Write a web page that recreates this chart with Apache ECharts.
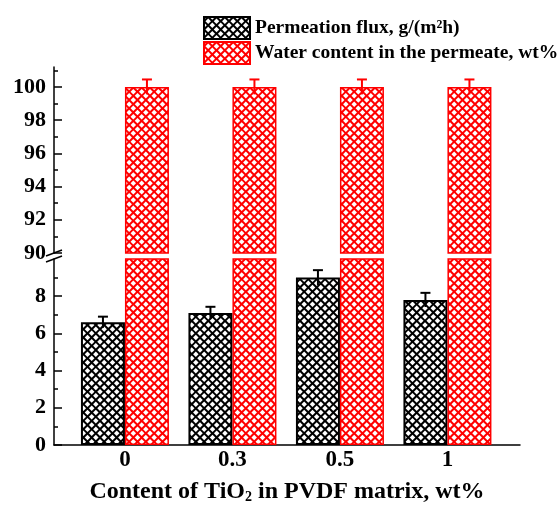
<!DOCTYPE html>
<html><head><meta charset="utf-8">
<script src="https://cdn.jsdelivr.net/npm/echarts@6/dist/echarts.min.js"></script>
<style>html,body{margin:0;padding:0;background:#fff}#c{width:558px;height:505px}</style>
</head><body><div id="c"></div>
<script>
// ---- data ----
const categories = ['0', '0.3', '0.5', '1'];
const positions = [1, 2, 3, 4];
const flux = [6.6, 7.1, 9.0, 7.8];
const fluxErr = [0.3, 0.33, 0.4, 0.38];
const water = [100, 100, 100, 100];
const waterErr = [0.45, 0.45, 0.45, 0.45];
const upperTicks = [90, 92, 94, 96, 98, 100];
const upperMinor = [91, 93, 95, 97, 99, 101];
const lowerTicks = [0, 2, 4, 6, 8];
const lowerMinor = [1, 3, 5, 7, 9];
const seriesNames = ['Permeation flux, g/(m²h)', 'Water content in the permeate, wt%'];

// ---- style ----
const FONT = "'Liberation Serif', 'Times New Roman', serif";
const BAR_W = 44;
const BLACK = '#000000', RED = '#ff0000';

function pattern(color) {
  const s = 25, c = document.createElement('canvas');
  c.width = s; c.height = s;
  const g = c.getContext('2d');
  g.fillStyle = color; g.fillRect(0, 0, s, s);
  g.fillStyle = '#ffffff';
  const p = s / 3, r = 2.75;
  function d(x, y) { g.beginPath(); g.moveTo(x, y - r); g.lineTo(x + r, y); g.lineTo(x, y + r); g.lineTo(x - r, y); g.closePath(); g.fill(); }
  for (let i = 0; i <= 3; i++) for (let j = 0; j <= 3; j++) { d(i * p, j * p); d(i * p + p / 2, j * p + p / 2); }
  return { image: c, repeat: 'repeat' };
}
const blackPat = pattern(BLACK), redPat = pattern(RED);

const axisLine = { show: true, onZero: false, lineStyle: { color: '#000', width: 1.5 } };
const tickLine = { color: '#000', width: 1.5 };
const labelStyle = { color: '#000', fontFamily: FONT, fontWeight: 'bold', fontSize: 22, margin: 8 };

function errRender(offset, color) {
  return function (params, api) {
    const x = api.value(0), v = api.value(1), e = api.value(2);
    const top = api.coord([x, v + e]);
    const bot = api.coord([x, v - e]);
    const cx = top[0] + offset;
    return { type: 'group', children: [
      { type: 'line', shape: { x1: cx, y1: top[1], x2: cx, y2: bot[1] }, style: { stroke: color, lineWidth: 2 } },
      { type: 'line', shape: { x1: cx - 5, y1: top[1], x2: cx + 5, y2: top[1] }, style: { stroke: color, lineWidth: 2 } }
    ] };
  };
}

const chart = echarts.init(document.getElementById('c'));
const option = {
  animation: false,
  backgroundColor: '#fff',
  legend: {
    data: seriesNames, orient: 'vertical', left: 203, top: 16, padding: 0,
    itemWidth: 46, itemHeight: 22, itemGap: 1, icon: 'rect',
    textStyle: { color: '#000', fontFamily: FONT, fontWeight: 'bold', fontSize: 19.5 }
  },
  grid: [
    { left: 54, right: 38, top: 67, bottom: 252, containLabel: false },
    { left: 54, right: 38, top: 259, bottom: 60, containLabel: false }
  ],
  xAxis: [
    { gridIndex: 0, type: 'value', min: 0.34, max: 4.675, show: false, splitLine: { show: false } },
    { gridIndex: 1, type: 'value', min: 0.34, max: 4.675, axisLine: axisLine, axisTick: { show: false },
      splitLine: { show: false },
      axisLabel: { customValues: positions, formatter: v => categories[positions.indexOf(v)],
        color: '#000', fontFamily: FONT, fontWeight: 'bold', fontSize: 23, margin: 4 },
      name: 'Content of TiO{s|2} in PVDF matrix, wt%', nameLocation: 'middle', nameGap: 35,
      nameTextStyle: { color: '#000', fontFamily: FONT, fontWeight: 'bold', fontSize: 24,
        rich: { s: { color: '#000', fontFamily: FONT, fontWeight: 'bold', fontSize: 14, padding: [10, 0, 0, 0] } } } }
  ],
  yAxis: [
    { gridIndex: 0, type: 'value', position: 'left', min: 90, max: 101.2, axisLine: axisLine,
      axisTick: { show: true, inside: true, length: 8, customValues: upperTicks, lineStyle: tickLine },
      axisLabel: Object.assign({ customValues: upperTicks }, labelStyle), splitLine: { show: false } },
    { gridIndex: 0, type: 'value', position: 'left', min: 90, max: 101.2, axisLine: { show: false, onZero: false },
      axisTick: { show: true, inside: true, length: 4, customValues: upperMinor, lineStyle: tickLine },
      axisLabel: { show: false }, splitLine: { show: false } },
    { gridIndex: 1, type: 'value', position: 'left', min: 0, max: 10, axisLine: axisLine,
      axisTick: { show: true, inside: true, length: 8, customValues: lowerTicks, lineStyle: tickLine },
      axisLabel: Object.assign({ customValues: lowerTicks }, labelStyle), splitLine: { show: false } },
    { gridIndex: 1, type: 'value', position: 'left', min: 0, max: 10, axisLine: { show: false, onZero: false },
      axisTick: { show: true, inside: true, length: 4, customValues: lowerMinor, lineStyle: tickLine },
      axisLabel: { show: false }, splitLine: { show: false } }
  ],
  series: [
    { name: seriesNames[0], type: 'bar', xAxisIndex: 1, yAxisIndex: 2, barWidth: BAR_W, barGap: '0%',
      data: positions.map((x, i) => [x, flux[i]]),
      itemStyle: { color: blackPat, borderColor: BLACK, borderWidth: 2 } },
    { name: seriesNames[1], type: 'bar', xAxisIndex: 1, yAxisIndex: 2, barWidth: BAR_W, barGap: '0%',
      data: positions.map((x, i) => [x, water[i]]),
      itemStyle: { color: redPat, borderColor: RED, borderWidth: 1.5 } },
    { name: seriesNames[0], type: 'bar', xAxisIndex: 0, yAxisIndex: 0, barWidth: BAR_W, barGap: '0%',
      data: positions.map(x => [x, '-']),
      itemStyle: { color: blackPat, borderColor: BLACK, borderWidth: 2 } },
    { name: seriesNames[1], type: 'bar', xAxisIndex: 0, yAxisIndex: 0, barWidth: BAR_W, barGap: '0%',
      data: positions.map((x, i) => [x, water[i]]),
      itemStyle: { color: redPat, borderColor: RED, borderWidth: 1.5 } },
    { type: 'custom', xAxisIndex: 1, yAxisIndex: 2, z: 5, renderItem: errRender(-BAR_W / 2, BLACK),
      encode: { x: 0, y: 1 }, data: positions.map((x, i) => [x, flux[i], fluxErr[i]]) },
    { type: 'custom', xAxisIndex: 0, yAxisIndex: 0, z: 5, renderItem: errRender(BAR_W / 2, RED),
      encode: { x: 0, y: 1 }, data: positions.map((x, i) => [x, water[i], waterErr[i]]) }
  ]
};
chart.setOption(option);

// axis break marks (decoration) placed at the gap between the two y-axis segments
const pTop = chart.convertToPixel({ yAxisIndex: 0 }, 90);
const pBot = chart.convertToPixel({ yAxisIndex: 2 }, 10);
const ax = chart.convertToPixel({ xAxisIndex: 1 }, 0.34);
chart.setOption({ graphic: [
  { type: 'line', shape: { x1: ax - 8, y1: pTop + 3, x2: ax + 8, y2: pTop - 3 }, style: { stroke: '#000', lineWidth: 1.5 } },
  { type: 'line', shape: { x1: ax - 8, y1: pBot + 3, x2: ax + 8, y2: pBot - 3 }, style: { stroke: '#000', lineWidth: 1.5 } }
] });
</script></body></html>
